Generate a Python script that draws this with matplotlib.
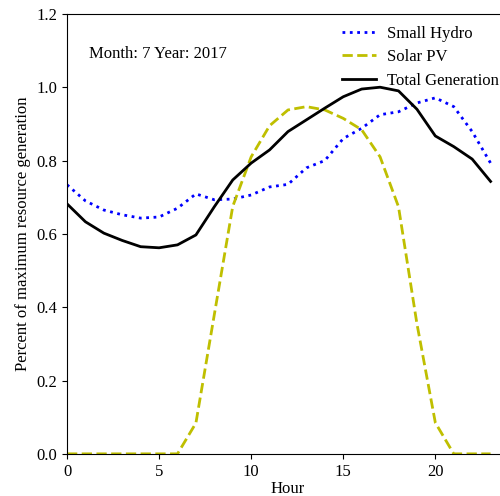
import numpy as np
import matplotlib
matplotlib.use('Agg')
import matplotlib.pyplot as plt

plt.rcParams['font.family'] = ['Liberation Serif', 'DejaVu Serif']
plt.rcParams['font.size'] = 12

hours = list(range(24))

small_hydro = [0.734, 0.690, 0.665, 0.652, 0.643, 0.646, 0.670, 0.709,
               0.693, 0.695, 0.706, 0.728, 0.735, 0.780, 0.800, 0.860,
               0.888, 0.925, 0.933, 0.957, 0.971, 0.947, 0.879, 0.793]
solar_pv = [0.0, 0.0, 0.0, 0.0, 0.0, 0.0, 0.0, 0.084,
            0.380, 0.675, 0.810, 0.895, 0.938, 0.947, 0.938, 0.915,
            0.884, 0.810, 0.674, 0.355, 0.085, 0.0, 0.0, 0.0]
total_gen = [0.682, 0.633, 0.602, 0.582, 0.565, 0.562, 0.570, 0.597,
             0.674, 0.747, 0.793, 0.829, 0.879, 0.911, 0.943, 0.974,
             0.995, 1.000, 0.990, 0.940, 0.867, 0.838, 0.804, 0.743]

month, year = 7, 2017

fig = plt.figure(figsize=(5, 4.96), dpi=100)
ax = fig.add_axes([0.134, 0.085, 0.884, 0.887])

ax.plot(hours, small_hydro, color='b', linestyle=':', linewidth=2, label='Small Hydro')
ax.plot(hours, solar_pv, color='y', linestyle='--', linewidth=2, label='Solar PV')
ax.plot(hours, total_gen, color='k', linewidth=2, label='Total Generation')

ax.set_xlim(0, 24)
ax.set_ylim(0, 1.2)
ax.set_xticks([0, 5, 10, 15, 20])
ax.set_yticks(np.arange(0, 1.21, 0.2))
ax.set_xlabel('Hour', labelpad=1)
ax.set_ylabel('Percent of maximum resource generation')
ax.text(1.2, 1.081, f'Month: {month} Year: {year}')
ax.legend(loc='upper right', frameon=False, bbox_to_anchor=(1.004, 1.0), borderaxespad=0.3,
          handletextpad=0.7, labelspacing=0.45)

fig.savefig('out.png', dpi=100)
